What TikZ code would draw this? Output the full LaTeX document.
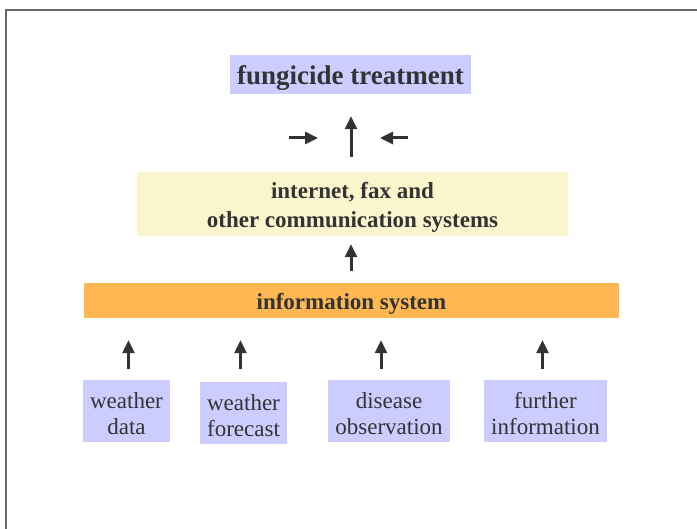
\documentclass[tikz,border=0pt]{standalone}
\usepackage{fontspec}
\setmainfont{Liberation Serif}
\usetikzlibrary{arrows.meta}
\definecolor{lavender}{HTML}{CCCCFF}
\definecolor{paleyellow}{HTML}{FBF5CE}
\definecolor{orangebar}{HTML}{FFB851}
\definecolor{inkgray}{HTML}{333333}

\begin{document}
\begin{tikzpicture}[x=1pt, y=-1pt,
	box/.style={shape=rectangle, inner sep=0pt},
	txt/.style={inner sep=0pt, align=center, text=inkgray, yshift=-3pt},
	srcbox/.style={box, fill=lavender, minimum height=62pt},
	srctxt/.style={txt, font=\fontsize{23}{26}\selectfont},
	arr/.style={draw=inkgray, line width=3pt, -{Triangle[length=13pt, width=12pt]}}]
	% Frame:
	\useasboundingbox (0, 0) rectangle (697, 529);
	\draw[line width=2pt, gray!80!black] (6, 529) -- (6, 10) -- (697, 10);
	% Boxes:
	\node[box, fill=lavender, minimum width=241pt, minimum height=39pt, label={[txt, font=\bfseries\fontsize{27}{30}\selectfont]center:fungicide treatment}] (treat) at (350.5, 74.5){};
	\node[box, fill=paleyellow, minimum width=431pt, minimum height=64pt, label={[txt, yshift=-0.5pt, font=\bfseries\fontsize{23}{29}\selectfont]center:internet, fax and\\other communication systems}] (comm) at (352.5, 204){};
	\node[box, fill=orangebar, minimum width=535pt, minimum height=35pt, label={[txt, font=\bfseries\fontsize{23}{27}\selectfont]center:information system}] (info) at (351.5, 300.5){};
	\node[srcbox, minimum width=87pt, label={[srctxt]center:weather\\data}] (wdata) at (126.5, 411){};
	\node[srcbox, minimum width=87pt, label={[srctxt]center:weather\\forecast}] (wfcst) at (243.5, 413){};
	\node[srcbox, minimum width=122pt, label={[srctxt]center:disease\\observation}] (dobs) at (389, 411){};
	\node[srcbox, minimum width=123pt, label={[srctxt]center:further\\information}] (finfo) at (545.5, 411){};
	% Arrows:
	\coordinate (lfrom) at (289, 138);
	\coordinate (lto) at (318, 138);
	\coordinate (rfrom) at (408, 138);
	\coordinate (rto) at (380, 138);
	\draw[arr] (lfrom) -- (lto);
	\draw[arr] (rfrom) -- (rto);
	\draw[arr, shorten <=15pt, shorten >=22pt] ([xshift=-1.5pt]comm.north) -- ([xshift=-1.5pt]comm.north |- treat.south);
	\draw[arr, shorten <=12pt, shorten >=8pt] ([xshift=-0.5pt]info.north) -- ([xshift=-0.5pt]info.north |- comm.south);
	\draw[arr, shorten <=11pt, shorten >=22pt] ([xshift=2pt]wdata.north) -- ([xshift=2pt]wdata.north |- info.south);
	\draw[arr, shorten <=13pt, shorten >=22pt] ([xshift=-3pt]wfcst.north) -- ([xshift=-3pt]wfcst.north |- info.south);
	\draw[arr, shorten <=11pt, shorten >=22pt] ([xshift=-8pt]dobs.north) -- ([xshift=-8pt]dobs.north |- info.south);
	\draw[arr, shorten <=11pt, shorten >=22pt] ([xshift=-3pt]finfo.north) -- ([xshift=-3pt]finfo.north |- info.south);
\end{tikzpicture}
\end{document}
